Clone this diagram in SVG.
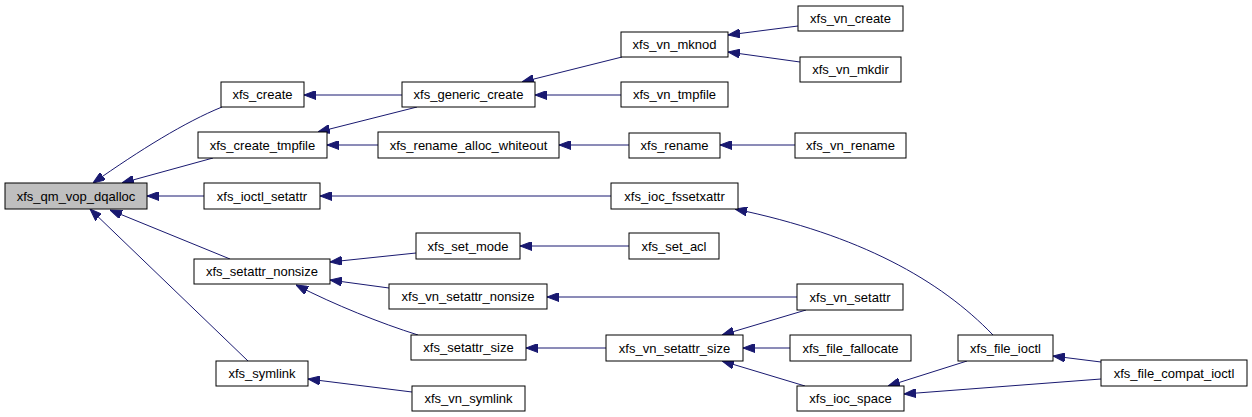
<svg xmlns="http://www.w3.org/2000/svg" width="1252" height="417" viewBox="0 0 1252 417">
<style>
.n rect{fill:#ffffff;stroke:#000000;stroke-width:1}
.n.root rect{fill:#bfbfbf}
.n text{font-family:"Liberation Sans",Arial,sans-serif;font-size:13px;fill:#000000;text-anchor:middle}
.e path{fill:none;stroke:#191970;stroke-width:1;marker-end:url(#ah)}
</style>
<defs>
<marker id="ah" viewBox="0 0 12 9" refX="12" refY="4.5" markerUnits="userSpaceOnUse" markerWidth="12" markerHeight="9" orient="auto">
<path d="M0,0 L12,4.5 L0,9 Z" fill="#191970" stroke="#191970" stroke-width="1"/>
</marker>
</defs>
<rect width="1252" height="417" fill="#ffffff"/>
<g id="connectors" class="e">
<path d="M222,107 C185,122 140,150 93,183"/>
<path d="M213,158 L122,183"/>
<path d="M204,196 L147,196"/>
<path d="M230,259 L110,210"/>
<path d="M248,361 L90,209"/>
<path d="M402,95 L304,95"/>
<path d="M417,107 L318,132"/>
<path d="M378,145 L327,145"/>
<path d="M611,196 L320,196"/>
<path d="M416,253 L330,262"/>
<path d="M389,288 L330,280"/>
<path d="M418,335 C380,323 335,305 296,285"/>
<path d="M412,392 L308,379"/>
<path d="M622,57 L522,82"/>
<path d="M621,95 L535,95"/>
<path d="M629,145 L559,145"/>
<path d="M798,26 L728,35"/>
<path d="M800,62 L728,52"/>
<path d="M795,145 L720,145"/>
<path d="M993,335 C940,280 860,235 735,209"/>
<path d="M629,246 L520,246"/>
<path d="M797,297 L547,297"/>
<path d="M606,348 L526,348"/>
<path d="M806,310 L722,335"/>
<path d="M790,348 L743,348"/>
<path d="M805,386 L722,361"/>
<path d="M967,361 L888,386"/>
<path d="M1101,362 L1053,356"/>
<path d="M1101,379 L904,394"/>
</g>
<g id="n_xfs_qm_vop_dqalloc" class="n root"><rect x="5" y="183" width="142" height="26"/><text x="76" y="200.5">xfs_qm_vop_dqalloc</text></g>
<g id="n_xfs_create" class="n"><rect x="221" y="82" width="83" height="25"/><text x="262.5" y="99">xfs_create</text></g>
<g id="n_xfs_create_tmpfile" class="n"><rect x="198" y="132" width="129" height="26"/><text x="262.5" y="149.5">xfs_create_tmpfile</text></g>
<g id="n_xfs_ioctl_setattr" class="n"><rect x="204" y="183" width="116" height="26"/><text x="262" y="200.5">xfs_ioctl_setattr</text></g>
<g id="n_xfs_setattr_nonsize" class="n"><rect x="194" y="259" width="136" height="25"/><text x="262" y="276">xfs_setattr_nonsize</text></g>
<g id="n_xfs_symlink" class="n"><rect x="216" y="361" width="92" height="25"/><text x="262" y="378">xfs_symlink</text></g>
<g id="n_xfs_generic_create" class="n"><rect x="402" y="82" width="133" height="25"/><text x="468.5" y="99">xfs_generic_create</text></g>
<g id="n_xfs_rename_alloc_whiteout" class="n"><rect x="378" y="132" width="181" height="26"/><text x="468.5" y="149.5">xfs_rename_alloc_whiteout</text></g>
<g id="n_xfs_set_mode" class="n"><rect x="416" y="233" width="104" height="26"/><text x="468" y="250.5">xfs_set_mode</text></g>
<g id="n_xfs_vn_setattr_nonsize" class="n"><rect x="389" y="284" width="158" height="25"/><text x="468" y="301">xfs_vn_setattr_nonsize</text></g>
<g id="n_xfs_setattr_size" class="n"><rect x="411" y="335" width="115" height="25"/><text x="468.5" y="352">xfs_setattr_size</text></g>
<g id="n_xfs_vn_symlink" class="n"><rect x="412" y="386" width="113" height="25"/><text x="468.5" y="403">xfs_vn_symlink</text></g>
<g id="n_xfs_vn_mknod" class="n"><rect x="621" y="32" width="107" height="25"/><text x="674.5" y="49">xfs_vn_mknod</text></g>
<g id="n_xfs_vn_tmpfile" class="n"><rect x="621" y="82" width="107" height="25"/><text x="674.5" y="99">xfs_vn_tmpfile</text></g>
<g id="n_xfs_rename" class="n"><rect x="629" y="133" width="91" height="25"/><text x="674.5" y="150">xfs_rename</text></g>
<g id="n_xfs_ioc_fssetxattr" class="n"><rect x="611" y="183" width="127" height="26"/><text x="674.5" y="200.5">xfs_ioc_fssetxattr</text></g>
<g id="n_xfs_set_acl" class="n"><rect x="629" y="233" width="90" height="26"/><text x="674" y="250.5">xfs_set_acl</text></g>
<g id="n_xfs_vn_setattr_size" class="n"><rect x="606" y="335" width="137" height="26"/><text x="674.5" y="352.5">xfs_vn_setattr_size</text></g>
<g id="n_xfs_vn_create" class="n"><rect x="798" y="6" width="105" height="25"/><text x="850.5" y="23">xfs_vn_create</text></g>
<g id="n_xfs_vn_mkdir" class="n"><rect x="800" y="57" width="101" height="25"/><text x="850.5" y="74">xfs_vn_mkdir</text></g>
<g id="n_xfs_vn_rename" class="n"><rect x="795" y="133" width="111" height="25"/><text x="850.5" y="150">xfs_vn_rename</text></g>
<g id="n_xfs_vn_setattr" class="n"><rect x="797" y="284" width="106" height="26"/><text x="850" y="301.5">xfs_vn_setattr</text></g>
<g id="n_xfs_file_fallocate" class="n"><rect x="790" y="335" width="121" height="26"/><text x="850.5" y="352.5">xfs_file_fallocate</text></g>
<g id="n_xfs_ioc_space" class="n"><rect x="797" y="386" width="107" height="25"/><text x="850.5" y="403">xfs_ioc_space</text></g>
<g id="n_xfs_file_ioctl" class="n"><rect x="958" y="335" width="95" height="26"/><text x="1005.5" y="352.5">xfs_file_ioctl</text></g>
<g id="n_xfs_file_compat_ioctl" class="n"><rect x="1101" y="360" width="146" height="26"/><text x="1174" y="377.5">xfs_file_compat_ioctl</text></g>
</svg>
